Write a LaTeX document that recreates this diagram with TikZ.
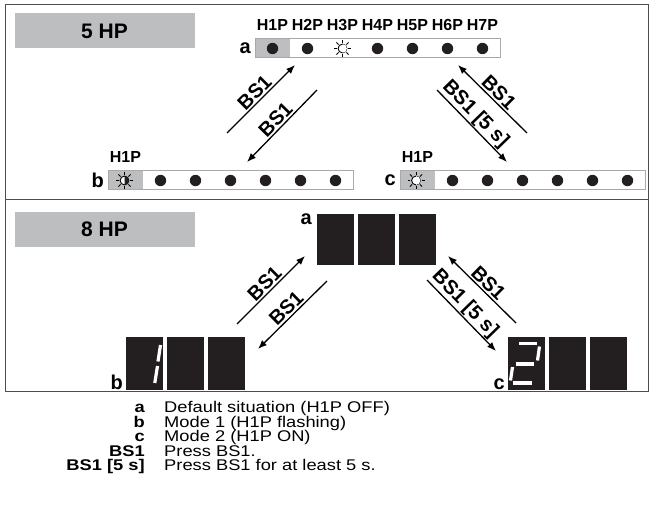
\documentclass[tikz,border=0pt]{standalone}
\usepackage{fontspec}
\setmainfont{Liberation Sans}
\usetikzlibrary{arrows.meta}
\definecolor{panelgray}{HTML}{BDBEC0}
\definecolor{ledblack}{HTML}{231F20}
\definecolor{framegray}{HTML}{4D4D4D}
\definecolor{bargray}{HTML}{A7A9AC}
% LED bar: left x, top y
\newcommand{\ledbar}[2]{%
  \fill[panelgray] (#1,#2) rectangle ++(35,19);
  \draw[bargray,line width=1pt] (#1,#2) rectangle ++(245,19);}
% sun symbol: x, y, fill of right half
\newcommand{\sunled}[3]{%
  \draw[line width=0.9pt,fill=white] (#1,#2) circle[radius=4.4];
  \fill[#3] (#1,#2) ++(0,-4.4) arc[start angle=-90,end angle=90,radius=4.4] -- cycle;
  \foreach \r in {0,45,...,315}
    \draw[line width=0.9pt] ([shift={(\r:5.6)}]#1,#2) -- ([shift={(\r:8.5)}]#1,#2);}

\begin{document}
\begin{tikzpicture}[x=1pt,y=-1pt,
  hpbox/.style={fill=panelgray,minimum width=180pt,minimum height=35pt,inner sep=0pt,
    font=\fontsize{21}{21}\selectfont\bfseries},
  lbl/.style={font=\fontsize{20}{20}\selectfont\bfseries,inner sep=0pt},
  hdr/.style={font=\fontsize{16}{16}\selectfont\bfseries,inner sep=0pt},
  key/.style={font=\fontsize{15.5}{15.5}\selectfont\bfseries,anchor=base east,inner sep=0pt,xscale=1.18},
  txt/.style={font=\fontsize{15.5}{15.5}\selectfont,anchor=base west,inner sep=0pt,xscale=1.18},
  bs/.style={font=\fontsize{20}{20}\selectfont\bfseries,sloped,above,inner sep=1.5pt},
  arr/.style={line width=1.3pt,-{Latex[length=9pt,width=7pt]}},
  lit/.style={white,line width=3.2pt}]
\useasboundingbox (0,0) rectangle (651,508);

% panels
\draw[framegray,line width=1pt] (5,5) rectangle (648,200);
\draw[framegray,line width=1pt] (5,200) rectangle (648,391);
\node[hpbox] (hp5) at (104.5,31) {5 HP};
\node[hpbox] (hp8) at (104.5,229) {8 HP};

% 5 HP: LED rows
\foreach \n in {1,...,7}
  \node[hdr] (h\n) at ({272.5+35*(\n-1)},25) {H\n P};
\ledbar{255}{39}
\foreach \k in {1,2,4,5,6,7}
  \fill[ledblack] ({272.5+35*(\k-1)},48.5) circle[radius=5.7];
\sunled{342.5}{48.5}{white}
\node[lbl,anchor=east] (ra) at (251,48) {a};

\ledbar{108}{171}
\foreach \k in {2,...,7}
  \fill[ledblack] ({125.5+35*(\k-1)},180.5) circle[radius=5.7];
\sunled{124.5}{180.5}{ledblack}
\node[hdr] (hb) at (125.5,157) {H1P};
\node[lbl,anchor=east] (rb) at (104,180) {b};

\ledbar{400}{171}
\foreach \k in {2,...,7}
  \fill[ledblack] ({417.5+35*(\k-1)},180.5) circle[radius=5.7];
\sunled{416}{180.5}{white}
\node[hdr] (hc) at (417.5,157) {H1P};
\node[lbl,anchor=east] (rc) at (396,180) {c};

\coordinate (la1) at (227,133); \coordinate (la2) at (295,65);
\coordinate (lb1) at (317,90);  \coordinate (lb2) at (247,162);
\coordinate (ra1) at (527,133); \coordinate (ra2) at (458,65);
\coordinate (rb1) at (437,90);  \coordinate (rb2) at (507,162);
\draw[arr] (la1) -- node[bs] (t1) {BS1} (la2);
\draw[arr] (lb1) -- node[bs] (t2) {BS1} (lb2);
\draw[arr] (ra1) -- node[bs] (t3) {BS1} (ra2);
\draw[arr] (rb1) -- node[bs,pos=0.44,inner sep=0.5pt] (t4) {BS1 [5 s]} (rb2);

% 8 HP: displays
\foreach \k in {0,1,2} {
  \fill[ledblack] ({317+41*\k},214) rectangle ++(37,51);
  \fill[ledblack] ({126+41*\k},337) rectangle ++(37,53);
  \fill[ledblack] ({508+41*\k},337) rectangle ++(37,53);
}
\node[lbl,anchor=north east] (da) at (312,214) {a};
\node[lbl,anchor=base east] (db) at (123,389) {b};
\node[lbl,anchor=base east] (dc) at (505,389) {c};
% digit 1
\draw[lit] (160.5,345) -- (158,361.5);
\draw[lit] (157.5,366) -- (154.8,383);
% digit 2
\draw[lit] (519,343.5) -- (537,343.5);
\draw[lit] (539.5,346.5) -- (537.5,360.5);
\draw[lit] (515.5,364) -- (534,364);
\draw[lit] (512.5,367) -- (510.5,380.5);
\draw[lit] (513,383) -- (532,383);

\coordinate (lc1) at (237,324); \coordinate (lc2) at (305,256);
\coordinate (ld1) at (327,281); \coordinate (ld2) at (258,349);
\coordinate (rc1) at (516,323); \coordinate (rc2) at (448,256);
\coordinate (rd1) at (427,280); \coordinate (rd2) at (496,351);
\draw[arr] (lc1) -- node[bs] (t5) {BS1} (lc2);
\draw[arr] (ld1) -- node[bs] (t6) {BS1} (ld2);
\draw[arr] (rc1) -- node[bs] (t7) {BS1} (rc2);
\draw[arr] (rd1) -- node[bs,pos=0.44,inner sep=0.5pt] (t8) {BS1 [5 s]} (rd2);

% legend
\node[key] (ka) at (145,412.5) {a};
\node[txt] (ea) at (164,412.5) {Default situation (H1P OFF)};
\node[key] (kb) at (145,427) {b};
\node[txt] (eb) at (164,427) {Mode 1 (H1P flashing)};
\node[key] (kc) at (145,441.5) {c};
\node[txt] (ec) at (164,441.5) {Mode 2 (H1P ON)};
\node[key] (kd) at (145,456) {BS1};
\node[txt] (ed) at (164,456) {Press BS1.};
\node[key] (ke) at (145,470.5) {BS1 [5 s]};
\node[txt] (ee) at (164,470.5) {Press BS1 for at least 5 s.};
\end{tikzpicture}
\end{document}
